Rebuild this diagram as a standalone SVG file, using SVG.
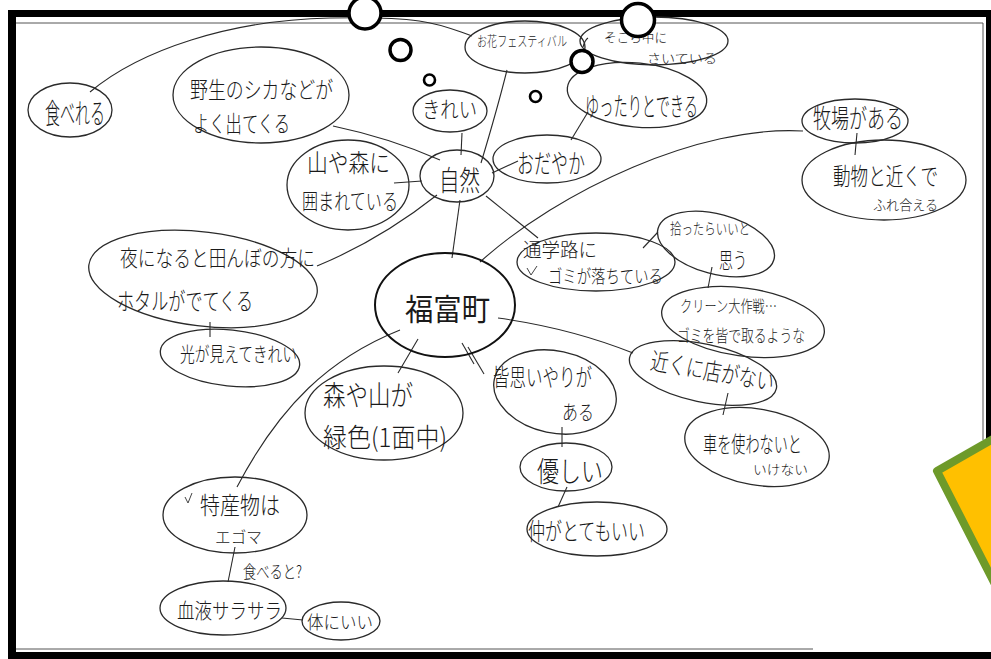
<svg xmlns="http://www.w3.org/2000/svg" width="991" height="659" viewBox="0 0 991 659">
<style>
  .bg{fill:#ffffff}
  .frame{fill:#000000}
  .thin{stroke:#555;stroke-width:1;fill:none}
  .node ellipse{fill:none;stroke:#2a2a2a;stroke-width:1.3}
  .node text{font-family:"Noto Sans CJK JP","Noto Sans",sans-serif;fill:#1a1a1a;font-weight:300}
  #connectors path,#connectors line{fill:none;stroke:#2a2a2a;stroke-width:1.1}
  .dot{fill:#ffffff;stroke:#000000}
  .tick{fill:none;stroke:#444;stroke-width:1}
</style>
<rect class="bg" x="0" y="0" width="991" height="659"/>
<g id="frame">
  <rect class="frame" x="8" y="10" width="983" height="7"/>
  <rect class="frame" x="8" y="10" width="8" height="649"/>
  <rect class="frame" x="8" y="652" width="983" height="7"/>
  <rect class="frame" x="986" y="10" width="5" height="432"/>
  <line class="thin" x1="16" y1="23" x2="983" y2="23"/>
  <line class="thin" x1="983" y1="23" x2="983" y2="440"/>
  <line class="thin" x1="16" y1="649" x2="813" y2="649"/>
</g>
<g id="connectors">
  <path d="M90,92 C140,50 230,20 330,18 S440,25 472,36"/>
  <line x1="452" y1="258" x2="460" y2="200"/>
  <line x1="462" y1="133" x2="461" y2="155"/>
  <path d="M481,163 Q497,110 507,70"/>
  <line x1="492" y1="173" x2="518" y2="161"/>
  <line x1="571" y1="140" x2="588" y2="112"/>
  <path d="M333,126 Q390,138 440,160"/>
  <line x1="394" y1="183" x2="422" y2="181"/>
  <path d="M317,266 Q380,240 437,195"/>
  <line x1="486" y1="196" x2="538" y2="238"/>
  <line x1="210" y1="322" x2="210" y2="337"/>
  <line x1="418" y1="339" x2="398" y2="373"/>
  <path d="M400,330 C330,358 280,405 237,487"/>
  <line x1="462" y1="343" x2="474" y2="364"/>
  <line x1="468" y1="347" x2="484" y2="374"/>
  <line x1="562" y1="427" x2="562" y2="447"/>
  <line x1="567" y1="487" x2="558" y2="507"/>
  <path d="M498,318 Q570,328 633,353"/>
  <line x1="728" y1="393" x2="723" y2="415"/>
  <line x1="643" y1="248" x2="658" y2="232"/>
  <line x1="712" y1="267" x2="708" y2="288"/>
  <path d="M480,262 C560,190 700,125 803,131"/>
  <line x1="857" y1="133" x2="855" y2="155"/>
  <line x1="235" y1="547" x2="228" y2="582"/>
  <line x1="282" y1="618" x2="303" y2="620"/>
  <path d="M583,47 Q585,40 588,38"/>
</g>
<g id="n-fukutomi" class="node">
  <ellipse cx="445" cy="305" rx="70" ry="52" style="stroke-width:2;stroke:#111"/>
  <text x="405" y="320" font-size="30" textLength="85" lengthAdjust="spacingAndGlyphs" style="font-weight:400">福富町</text>
</g>
<g id="n-shizen" class="node">
  <ellipse cx="457" cy="176" rx="37" ry="26"/>
  <text x="439" y="191" font-size="28" textLength="41" lengthAdjust="spacingAndGlyphs">自然</text>
</g>
<g id="n-kirei" class="node">
  <ellipse cx="450" cy="111" rx="37" ry="21"/>
  <text x="422" y="117" font-size="22" textLength="55" lengthAdjust="spacingAndGlyphs">きれい</text>
</g>
<g id="n-ohana" class="node">
  <ellipse cx="525" cy="47" rx="60" ry="26"/>
  <text x="477" y="46" font-size="13.5" textLength="90" lengthAdjust="spacingAndGlyphs">お花フェスティバル</text>
</g>
<g id="n-sokora" class="node">
  <ellipse cx="654" cy="41" rx="74" ry="24"/>
  <text x="604" y="42" font-size="13" textLength="63" lengthAdjust="spacingAndGlyphs">そこら中に</text>
  <text x="647" y="63" font-size="13" textLength="70" lengthAdjust="spacingAndGlyphs">さいている</text>
</g>
<g id="n-yuttari" class="node">
  <ellipse cx="637" cy="95" rx="70" ry="32" transform="rotate(6 637 95)"/>
  <text x="585" y="116" font-size="26" textLength="113" lengthAdjust="spacingAndGlyphs">ゆったりとできる</text>
</g>
<g id="n-odayaka" class="node">
  <ellipse cx="547" cy="159" rx="54" ry="24"/>
  <text x="517" y="173" font-size="26" textLength="68" lengthAdjust="spacingAndGlyphs">おだやか</text>
</g>
<g id="n-yasei" class="node">
  <ellipse cx="261" cy="95" rx="88" ry="48"/>
  <text x="190" y="98" font-size="23" textLength="143" lengthAdjust="spacingAndGlyphs">野生のシカなどが</text>
  <text x="193" y="132" font-size="23" textLength="97" lengthAdjust="spacingAndGlyphs">よく出てくる</text>
</g>
<g id="n-taberu" class="node">
  <ellipse cx="70" cy="110" rx="42" ry="27"/>
  <text x="45" y="124" font-size="28" textLength="60" lengthAdjust="spacingAndGlyphs">食べれる</text>
</g>
<g id="n-yamamori" class="node">
  <ellipse cx="348" cy="185" rx="61" ry="45"/>
  <text x="307" y="172" font-size="25" textLength="83" lengthAdjust="spacingAndGlyphs">山や森に</text>
  <text x="302" y="209" font-size="22" textLength="96" lengthAdjust="spacingAndGlyphs">囲まれている</text>
</g>
<g id="n-yoru" class="node">
  <ellipse cx="203" cy="279" rx="115" ry="47" transform="rotate(7 203 279)"/>
  <text x="120" y="266" font-size="22" textLength="195" lengthAdjust="spacingAndGlyphs">夜になると田んぼの方に</text>
  <text x="117" y="310" font-size="24" textLength="136" lengthAdjust="spacingAndGlyphs">ホタルがでてくる</text>
</g>
<g id="n-hikari" class="node">
  <ellipse cx="230" cy="358" rx="70" ry="28" transform="rotate(6 230 358)"/>
  <text x="180" y="362" font-size="20" textLength="117" lengthAdjust="spacingAndGlyphs">光が見えてきれい</text>
</g>
<g id="n-moriyama" class="node">
  <ellipse cx="384" cy="413" rx="79" ry="47"/>
  <text x="323" y="406" font-size="28" textLength="90" lengthAdjust="spacingAndGlyphs">森や山が</text>
  <text x="323" y="447" font-size="26" textLength="124" lengthAdjust="spacingAndGlyphs">緑色(1面中)</text>
</g>
<g id="n-tokusan" class="node">
  <ellipse cx="235" cy="515" rx="72" ry="38"/>
  <path class="tick" d="M185,497 L188,503 L192,493"/>
  <text x="200" y="514" font-size="24" textLength="80" lengthAdjust="spacingAndGlyphs">特産物は</text>
  <text x="215" y="543" font-size="16" textLength="47" lengthAdjust="spacingAndGlyphs">エゴマ</text>
</g>
<g id="l-taberuto" class="node">
  <text x="243" y="578" font-size="17" textLength="59" lengthAdjust="spacingAndGlyphs">食べると?</text>
</g>
<g id="n-ketsueki" class="node">
  <ellipse cx="223" cy="608" rx="63" ry="27"/>
  <text x="177" y="618" font-size="21" textLength="105" lengthAdjust="spacingAndGlyphs">血液サラサラ</text>
</g>
<g id="n-karada" class="node">
  <ellipse cx="341" cy="621" rx="39" ry="19"/>
  <text x="307" y="629" font-size="18" textLength="66" lengthAdjust="spacingAndGlyphs">体にいい</text>
</g>
<g id="n-omoiyari" class="node">
  <ellipse cx="555" cy="392" rx="62" ry="41" transform="rotate(12 555 392)"/>
  <text x="493" y="386" font-size="24" textLength="99" lengthAdjust="spacingAndGlyphs">皆思いやりが</text>
  <text x="562" y="420" font-size="20" textLength="32" lengthAdjust="spacingAndGlyphs">ある</text>
</g>
<g id="n-yasashii" class="node">
  <ellipse cx="566" cy="467" rx="46" ry="24"/>
  <text x="537" y="482" font-size="28" textLength="66" lengthAdjust="spacingAndGlyphs">優しい</text>
</g>
<g id="n-naka" class="node">
  <ellipse cx="597" cy="529" rx="70" ry="27"/>
  <text x="528" y="540" font-size="24" textLength="117" lengthAdjust="spacingAndGlyphs">仲がとてもいい</text>
</g>
<g id="n-tsugakuro" class="node">
  <ellipse cx="596" cy="262" rx="79" ry="29"/>
  <path class="tick" d="M527,268 L531,275 L537,266"/>
  <text x="523" y="257" font-size="19" textLength="74" lengthAdjust="spacingAndGlyphs">通学路に</text>
  <text x="548" y="283" font-size="18" textLength="115" lengthAdjust="spacingAndGlyphs">ゴミが落ちている</text>
</g>
<g id="n-hirou" class="node">
  <ellipse cx="716" cy="244" rx="60" ry="30" transform="rotate(15 716 244)"/>
  <text x="670" y="234" font-size="15" textLength="80" lengthAdjust="spacingAndGlyphs">拾ったらいいと</text>
  <text x="719" y="268" font-size="22" textLength="28" lengthAdjust="spacingAndGlyphs">思う</text>
</g>
<g id="n-clean" class="node">
  <ellipse cx="743" cy="322" rx="82" ry="34" transform="rotate(8 743 322)"/>
  <text x="680" y="312" font-size="16" textLength="97" lengthAdjust="spacingAndGlyphs">クリーン大作戦…</text>
  <text x="677" y="342" font-size="17" textLength="128" lengthAdjust="spacingAndGlyphs">ゴミを皆で取るような</text>
</g>
<g id="n-chikaku" class="node">
  <ellipse cx="703" cy="373" rx="75" ry="29" transform="rotate(12 703 373)"/>
  <text x="650" y="380" font-size="24" textLength="125" lengthAdjust="spacingAndGlyphs" transform="rotate(10 712 372)">近くに店がない</text>
</g>
<g id="n-kuruma" class="node">
  <ellipse cx="757" cy="447" rx="73" ry="38" transform="rotate(10 757 447)"/>
  <text x="703" y="452" font-size="22" textLength="99" lengthAdjust="spacingAndGlyphs">車を使わないと</text>
  <text x="753" y="474" font-size="13" textLength="55" lengthAdjust="spacingAndGlyphs">いけない</text>
</g>
<g id="n-bokujo" class="node">
  <ellipse cx="855" cy="121" rx="53" ry="22"/>
  <text x="813" y="128" font-size="26" textLength="90" lengthAdjust="spacingAndGlyphs">牧場がある</text>
</g>
<g id="n-doubutsu" class="node">
  <ellipse cx="884" cy="180" rx="82" ry="40"/>
  <text x="833" y="185" font-size="24" textLength="105" lengthAdjust="spacingAndGlyphs">動物と近くで</text>
  <text x="873" y="210" font-size="14" textLength="65" lengthAdjust="spacingAndGlyphs">ふれ合える</text>
</g>
<g id="decor">
  <polygon points="937,471 1000,435 1000,594" fill="#ffc000" stroke="#6e9a2a" stroke-width="8" stroke-linejoin="round"/>
  <circle class="dot" cx="365" cy="13" r="16" stroke-width="3.5"/>
  <circle class="dot" cx="400.5" cy="50" r="10.5" stroke-width="3.5"/>
  <circle class="dot" cx="429.5" cy="80" r="5.5" stroke-width="2.6"/>
  <circle class="dot" cx="535.5" cy="96.5" r="5.5" stroke-width="2.6"/>
  <circle class="dot" cx="638" cy="20" r="16.5" stroke-width="3.5"/>
  <circle class="dot" cx="582" cy="61.5" r="11" stroke-width="3.5"/>
</g>
</svg>
